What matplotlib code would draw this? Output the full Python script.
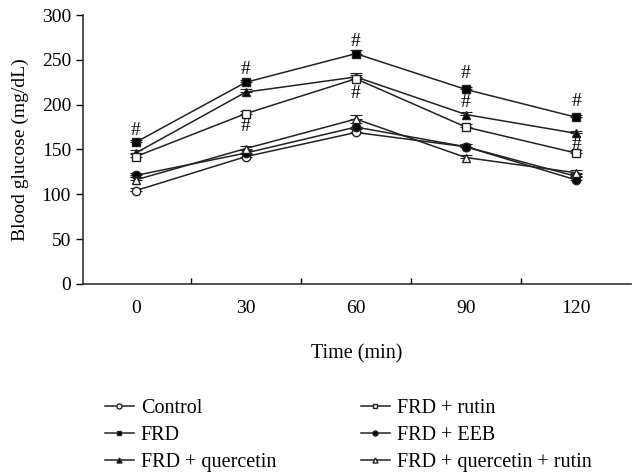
import matplotlib.pyplot as plt
import numpy as np

plt.rcParams['font.family'] = ['Liberation Serif', 'DejaVu Serif']

times = ['0', '30', '60', '90', '120']
control = [104, 142, 169, 153, 120]
frd = [158, 225, 257, 217, 186]
quercetin = [146, 214, 231, 189, 168]
rutin = [142, 190, 229, 175, 146]
eeb = [121, 146, 175, 153, 116]
quer_rutin = [116, 151, 184, 141, 124]
sem = [3, 3, 4, 3, 3]

# significance marks (#): time index and height
hash_idx = [0, 1, 1, 2, 2, 3, 3, 4, 4]
hash_y = [171, 239, 176, 271, 212, 235, 202, 204, 156]

x = np.arange(len(times))

fig = plt.figure(figsize=(6.42, 4.73), dpi=100)
ax = fig.add_axes([0.129, 0.40, 0.854, 0.568])

series = [
    (control, 'o', 'white', 'Control'),
    (frd, 's', 'black', 'FRD'),
    (quercetin, '^', 'black', 'FRD + quercetin'),
    (rutin, 's', 'white', 'FRD + rutin'),
    (eeb, 'o', 'black', 'FRD + EEB'),
    (quer_rutin, '^', 'white', 'FRD + quercetin + rutin'),
]

handles = []
for vals, m, fc, lab in series:
    ax.errorbar(x, vals, yerr=[np.zeros(len(vals)), sem], fmt='none',
                ecolor='#222222', elinewidth=0.8, capsize=4, capthick=0.8)
    h, = ax.plot(x, vals, marker=m, markerfacecolor=fc, markeredgecolor='#222222',
                 color='#222222', lw=1.1, markersize=6, markeredgewidth=1.0, label=lab)
    handles.append(h)

for i, yv in zip(hash_idx, hash_y):
    ax.text(x[i], yv, '#', ha='center', va='center', fontsize=14)

ax.set_xlim(-0.48, 4.5)
ax.set_ylim(0, 300)
ax.set_yticks(np.arange(0, 301, 50))
ax.set_xticks(x)
ax.set_xticklabels(times)
ax.set_xticks(x[:-1] + 0.5, minor=True)
ax.tick_params(axis='x', which='major', length=0, pad=12, labelsize=14)
ax.tick_params(axis='x', which='minor', direction='in', length=4, width=1)
ax.tick_params(axis='y', direction='out', length=5, width=1, labelsize=14)
for s in ['top', 'right']:
    ax.spines[s].set_visible(False)
for s in ['left', 'bottom']:
    ax.spines[s].set_linewidth(1.2)
    ax.spines[s].set_color('#333333')

ax.set_xlabel('Time (min)', fontsize=14.5, labelpad=19)
ax.set_ylabel('Blood glucose (mg/dL)', fontsize=14, labelpad=9)

fig.legend(handles=handles, ncol=2, frameon=False, loc='upper left',
           bbox_to_anchor=(0.163, 0.157), fontsize=14.5, markerscale=0.6,
           handlelength=1.45, handletextpad=0.35, columnspacing=4.2,
           labelspacing=0.39, borderaxespad=0, borderpad=0)

fig.savefig('out.png', dpi=100)
